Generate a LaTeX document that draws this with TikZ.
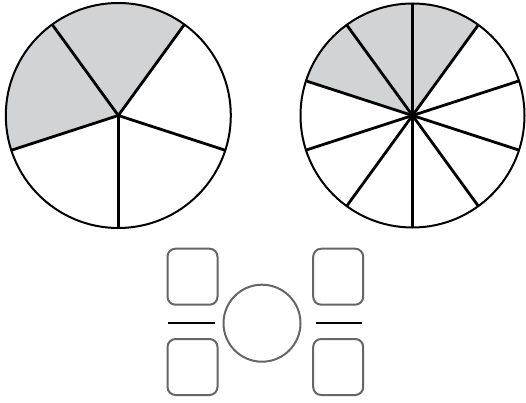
\documentclass[tikz,border=0pt]{standalone}
\begin{document}
\begin{tikzpicture}[x=1pt,y=-1pt,
  rim/.style={draw=black,line width=2pt},
  spoke/.style={draw=black,line width=2.8pt},
  shade/.style={fill=shadegray},
  box/.style={draw=boxgray,line width=2pt,rounded corners=8pt},
  bar/.style={draw=black,line width=2pt}]
\definecolor{shadegray}{HTML}{D1D3D4}
\definecolor{boxgray}{HTML}{666666}
\useasboundingbox (0,0) rectangle (526,403);
% left circle: fifths
\coordinate (L) at (118.3,115.5);
\fill[shade] (L) -- ++(54:{112.5} and {-112.5}) arc[start angle=54,end angle=198,x radius=112.5,y radius=-112.5] -- cycle;
\foreach \a in {54,126,198,270,342}
  \draw[spoke] (L) -- ++({112.5*cos(\a)},{-112.5*sin(\a)});
\draw[rim] (L) circle[radius=112.5];
% right circle: tenths
\coordinate (R) at (412.5,115.5);
\fill[shade] (R) -- ++({112*cos(54)},{-112*sin(54)}) arc[start angle=54,end angle=162,x radius=112,y radius=-112] -- cycle;
\foreach \a in {18,54,...,342}
  \draw[spoke] (R) -- ++({112*cos(\a)},{-112*sin(\a)});
\draw[rim] (R) circle[radius=112];
% bottom fraction boxes
\node[box,minimum width=50pt,minimum height=56pt,inner sep=0pt] (b1) at (192.5,276.7) {};
\node[box,minimum width=50pt,minimum height=56pt,inner sep=0pt] (b2) at (192.5,367) {};
\node[box,minimum width=50pt,minimum height=56pt,inner sep=0pt] (b3) at (338.2,276.7) {};
\node[box,minimum width=50pt,minimum height=56pt,inner sep=0pt] (b4) at (338.2,367) {};
\draw[bar] (168,323.3) -- (215,323.3);
\draw[bar] (315.5,323.3) -- (362,323.3);
\node[draw=boxgray,line width=2pt,circle,minimum size=77pt,inner sep=0pt] (c) at (262,323.2) {};
\end{tikzpicture}
\end{document}
